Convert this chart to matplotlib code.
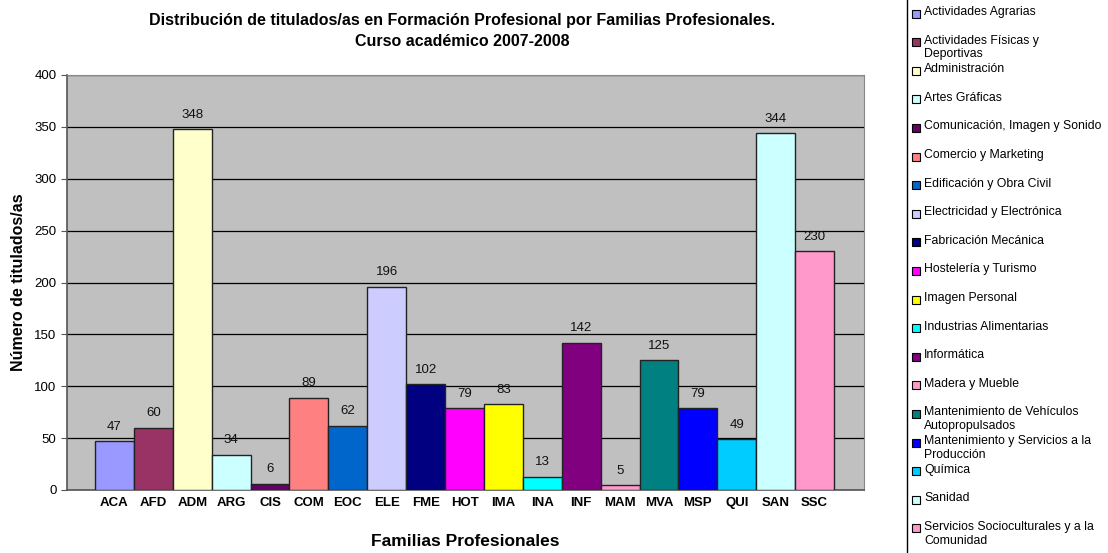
import matplotlib
matplotlib.use("Agg")
import matplotlib.pyplot as plt
from matplotlib.patches import Rectangle

plt.rcParams['font.family'] = ['Liberation Sans', 'DejaVu Sans']

codes = ['ACA', 'AFD', 'ADM', 'ARG', 'CIS', 'COM', 'EOC', 'ELE', 'FME', 'HOT',
         'IMA', 'INA', 'INF', 'MAM', 'MVA', 'MSP', 'QUI', 'SAN', 'SSC']
families = ['Actividades Agrarias', 'Actividades Físicas y\nDeportivas', 'Administración',
            'Artes Gráficas', 'Comunicación, Imagen y Sonido', 'Comercio y Marketing',
            'Edificación y Obra Civil', 'Electricidad y Electrónica', 'Fabricación Mecánica',
            'Hostelería y Turismo', 'Imagen Personal', 'Industrias Alimentarias',
            'Informática', 'Madera y Mueble', 'Mantenimiento de Vehículos\nAutopropulsados',
            'Mantenimiento y Servicios a la\nProducción', 'Química', 'Sanidad',
            'Servicios Socioculturales y a la\nComunidad']
values = [47, 60, 348, 34, 6, 89, 62, 196, 102, 79, 83, 13, 142, 5, 125, 79, 49, 344, 230]
colors = ['#9999FF', '#993366', '#FFFFCC', '#CCFFFF', '#660066', '#FF8080', '#0066CC',
          '#CCCCFF', '#000080', '#FF00FF', '#FFFF00', '#00FFFF', '#800080', '#FF99CC',
          '#008080', '#0000FF', '#00CCFF', '#CCFFFF', '#FF99CC']

W, H = 1108, 553
fig = plt.figure(figsize=(W / 100, H / 100), dpi=100)

ax = fig.add_axes([67 / W, (H - 490) / H, 797 / W, 415 / H])
ax.set_facecolor('#C0C0C0')
x = range(len(codes))
ax.bar(x, values, width=1.0, color=colors, edgecolor='#222222', linewidth=1.0, zorder=3)
for xi, v in zip(x, values):
    ax.text(xi, v + 8, str(v), ha='center', va='bottom', fontsize=9.5, color='#111111')

ax.set_ylim(0, 400)
ax.set_xlim(-1.22, 19.27)
ax.set_yticks(range(0, 401, 50))
ax.yaxis.grid(True, color='black', linewidth=0.9, zorder=1)
ax.set_axisbelow(True)
ax.set_xticks(list(x))
ax.set_xticklabels(codes, fontsize=9.5, fontweight='bold')
ax.tick_params(axis='x', length=0, pad=5)
ax.tick_params(axis='y', labelsize=9.5, length=4, direction='out', color='#555555')
for side in ['top', 'right', 'bottom']:
    ax.spines[side].set_color('#888888')
ax.spines['left'].set_color('#555555')
ax.spines['left'].set_linewidth(1.2)
ax.spines['bottom'].set_color('#555555')
ax.spines['bottom'].set_linewidth(1.2)

ax.set_ylabel('Número de titulados/as', fontsize=11.5, fontweight='bold', labelpad=6)
fig.text(465 / W, 1 - 541 / H, 'Familias Profesionales', ha='center', va='center',
         fontsize=12.5, fontweight='bold')
fig.text(462 / W, 1 - 31 / H,
         'Distribución de titulados/as en Formación Profesional por Familias Profesionales.\n'
         'Curso académico 2007-2008',
         ha='center', va='center', fontsize=11.5, fontweight='bold', linespacing=1.45)

# legend panel
lg = fig.add_axes([0, 0, 1, 1])
lg.set_xlim(0, W)
lg.set_ylim(H, 0)
lg.axis('off')
lg.add_patch(Rectangle((907, -2), 210, H + 4, facecolor='white', edgecolor='black', linewidth=1))
for i, (name, c) in enumerate(zip(families, colors)):
    y = 13.5 + i * 28.6
    lg.add_patch(Rectangle((912, y - 4), 8, 8, facecolor=c, edgecolor='black', linewidth=0.8))
    lg.text(924, y - 7.5, name, ha='left', va='top', fontsize=8.8, linespacing=1.2)

fig.savefig('out.png', dpi=100)
